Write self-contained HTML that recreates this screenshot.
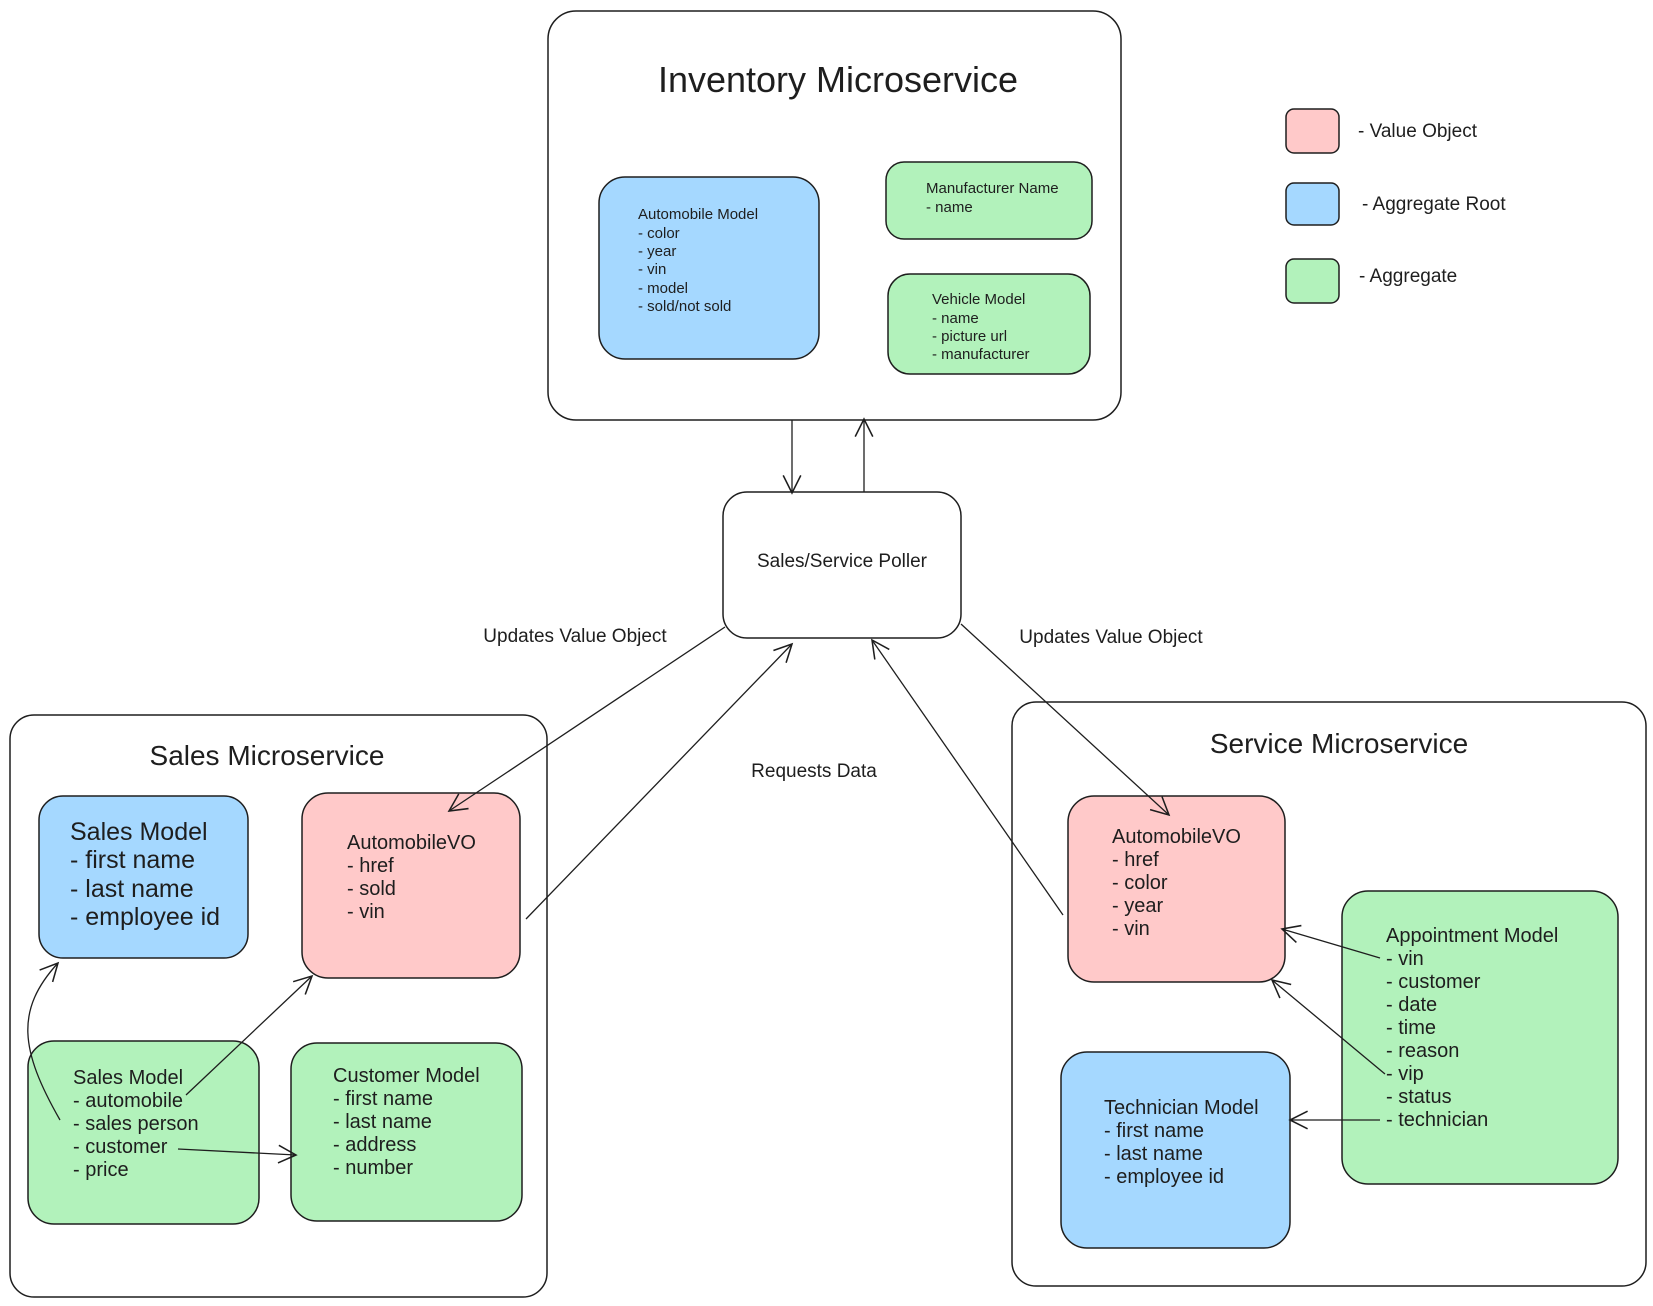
<!DOCTYPE html>
<html><head><meta charset="utf-8"><style>
html,body{margin:0;padding:0;background:#fff;}
svg{display:block;}
text{font-family:"Liberation Sans",Arial,sans-serif;fill:#1e1e1e;}
</style></head><body>
<svg width="1653" height="1306" viewBox="0 0 1653 1306" xmlns="http://www.w3.org/2000/svg">
<defs>
<marker id="a" viewBox="0 0 20 20" refX="18" refY="10" markerWidth="22" markerHeight="22" orient="auto" markerUnits="userSpaceOnUse">
<path d="M2 2 L18 10 L2 18" fill="none" stroke="#1e1e1e" stroke-width="1.4"/>
</marker>
</defs>
<g fill="none" stroke="#1e1e1e" stroke-width="1.5">
<rect x="548" y="11" width="573" height="409" rx="28" fill="#fff"/>
<rect x="10" y="715" width="537" height="582" rx="24" fill="#fff"/>
<rect x="1012" y="702" width="634" height="584" rx="24" fill="#fff"/>
<rect x="723" y="492" width="238" height="146" rx="24" fill="#fff"/>
<rect x="599" y="177" width="220" height="182" rx="26" fill="#a5d8ff"/>
<rect x="886" y="162" width="206" height="77" rx="18" fill="#b2f2bb"/>
<rect x="888" y="274" width="202" height="100" rx="22" fill="#b2f2bb"/>
<rect x="1286" y="109" width="53" height="44" rx="8" fill="#ffc9c9"/>
<rect x="1286" y="183" width="53" height="42" rx="8" fill="#a5d8ff"/>
<rect x="1286" y="259" width="53" height="44" rx="8" fill="#b2f2bb"/>
<rect x="39" y="796" width="209" height="162" rx="24" fill="#a5d8ff"/>
<rect x="302" y="793" width="218" height="185" rx="26" fill="#ffc9c9"/>
<rect x="28" y="1041" width="231" height="183" rx="26" fill="#b2f2bb"/>
<rect x="291" y="1043" width="231" height="178" rx="26" fill="#b2f2bb"/>
<rect x="1068" y="796" width="217" height="186" rx="26" fill="#ffc9c9"/>
<rect x="1342" y="891" width="276" height="293" rx="26" fill="#b2f2bb"/>
<rect x="1061" y="1052" width="229" height="196" rx="26" fill="#a5d8ff"/>
<g stroke-width="1.3" marker-end="url(#a)">
<line x1="792" y1="420" x2="792" y2="493"/>
<line x1="864" y1="492" x2="864" y2="419"/>
<line x1="725" y1="627" x2="449" y2="811"/>
<line x1="526" y1="919" x2="792" y2="644"/>
<line x1="1063" y1="915" x2="872" y2="640"/>
<line x1="961" y1="624" x2="1169" y2="815"/>
<line x1="186" y1="1095" x2="312" y2="976"/>
<line x1="178" y1="1149" x2="296" y2="1155"/>
<path d="M60 1120 C 20 1050, 15 1010, 58 963"/>
<line x1="1380" y1="958" x2="1282" y2="929"/>
<line x1="1385" y1="1074" x2="1272" y2="980"/>
<line x1="1380" y1="1120" x2="1290" y2="1120"/>
</g>
</g>
<text x="838" y="92" font-size="36" text-anchor="middle">Inventory Microservice</text>
<g font-size="15">
<text x="638" y="219">Automobile Model</text>
<text x="638" y="238">- color</text>
<text x="638" y="256">- year</text>
<text x="638" y="274">- vin</text>
<text x="638" y="293">- model</text>
<text x="638" y="311">- sold/not sold</text>
<text x="926" y="193">Manufacturer Name</text>
<text x="926" y="212">- name</text>
<text x="932" y="304">Vehicle Model</text>
<text x="932" y="323">- name</text>
<text x="932" y="341">- picture url</text>
<text x="932" y="359">- manufacturer</text>
</g>
<g font-size="19">
<text x="1358" y="137">- Value Object</text>
<text x="1362" y="210">- Aggregate Root</text>
<text x="1359" y="282">- Aggregate</text>
<text x="842" y="567" text-anchor="middle">Sales/Service Poller</text>
<text x="575" y="642" text-anchor="middle">Updates Value Object</text>
<text x="1111" y="643" text-anchor="middle">Updates Value Object</text>
<text x="814" y="777" text-anchor="middle">Requests Data</text>
</g>
<text x="267" y="765" font-size="28" text-anchor="middle">Sales Microservice</text>
<text x="1339" y="753" font-size="28" text-anchor="middle">Service Microservice</text>
<g font-size="25">
<text x="70" y="840">Sales Model</text>
<text x="70" y="868">- first name</text>
<text x="70" y="897">- last name</text>
<text x="70" y="925">- employee id</text>
</g>
<g font-size="20">
<text x="347" y="849">AutomobileVO</text>
<text x="347" y="872">- href</text>
<text x="347" y="895">- sold</text>
<text x="347" y="918">- vin</text>
<text x="73" y="1084">Sales Model</text>
<text x="73" y="1107">- automobile</text>
<text x="73" y="1130">- sales person</text>
<text x="73" y="1153">- customer</text>
<text x="73" y="1176">- price</text>
<text x="333" y="1082">Customer Model</text>
<text x="333" y="1105">- first name</text>
<text x="333" y="1128">- last name</text>
<text x="333" y="1151">- address</text>
<text x="333" y="1174">- number</text>
<text x="1112" y="843">AutomobileVO</text>
<text x="1112" y="866">- href</text>
<text x="1112" y="889">- color</text>
<text x="1112" y="912">- year</text>
<text x="1112" y="935">- vin</text>
<text x="1386" y="942">Appointment Model</text>
<text x="1386" y="965">- vin</text>
<text x="1386" y="988">- customer</text>
<text x="1386" y="1011">- date</text>
<text x="1386" y="1034">- time</text>
<text x="1386" y="1057">- reason</text>
<text x="1386" y="1080">- vip</text>
<text x="1386" y="1103">- status</text>
<text x="1386" y="1126">- technician</text>
<text x="1104" y="1114">Technician Model</text>
<text x="1104" y="1137">- first name</text>
<text x="1104" y="1160">- last name</text>
<text x="1104" y="1183">- employee id</text>
</g>
</svg>
</body></html>
